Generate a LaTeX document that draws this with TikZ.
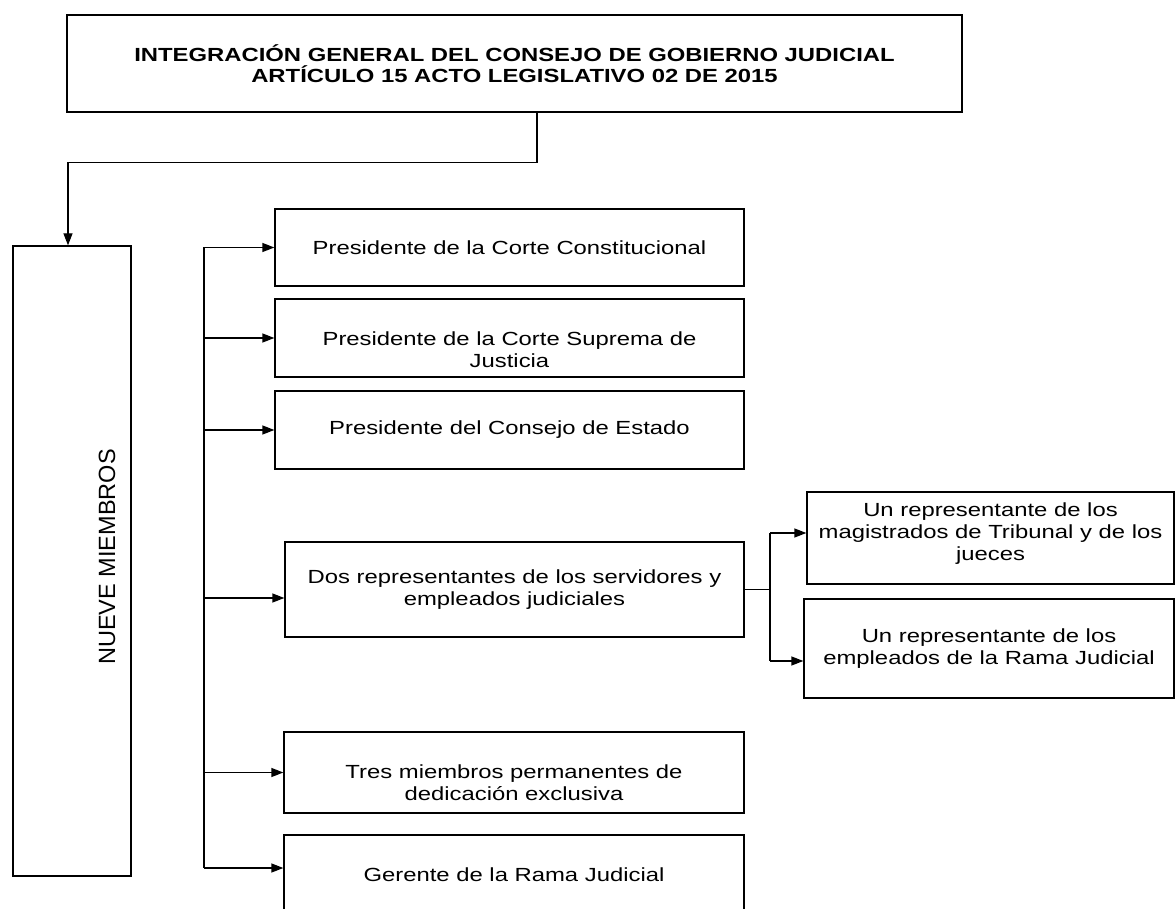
\documentclass[tikz,border=0pt]{standalone}
\usepackage{fontspec}
\setmainfont{Liberation Sans}[FakeStretch=1.255]
\newfontfamily\rotfont{Liberation Sans}
\usetikzlibrary{arrows.meta}
\begin{document}
\begin{tikzpicture}[x=1pt,y=-1pt,
  caja/.style={draw,line width=1.3pt,align=center,inner sep=0pt,font=\fontsize{19}{21.7}\selectfont},
  flecha/.style={line width=1.3pt,-{Triangle[length=12pt,width=9pt]}},
  linea/.style={line width=1.3pt}]
\fill[white] (0,0) rectangle (1176,909);
\useasboundingbox (0,0) rectangle (1176,909);
\node[caja,minimum width=895pt,minimum height=97pt,font=\bfseries\fontsize{19}{21}\selectfont] (titulo) at (514.5,63.5)
  {INTEGRACIÓN GENERAL DEL CONSEJO DE GOBIERNO JUDICIAL\\ARTÍCULO 15 ACTO LEGISLATIVO 02 DE 2015};
\node[caja,minimum width=118pt,minimum height=630pt] (nueve) at (72,561) {};
\node[rotate=90,inner sep=0pt,font=\rotfont\fontsize{23.5}{26}\selectfont] (nuevetxt) at (107,557) {NUEVE MIEMBROS};
\node[caja,minimum width=469pt,minimum height=77pt] (p1) at (509.5,247.5) {Presidente de la Corte Constitucional};
\node[caja,minimum width=469pt,minimum height=78pt,text height=62pt,text depth=4pt] (p2) at (509.5,338) {Presidente de la Corte Suprema de\\Justicia};
\node[caja,minimum width=469pt,minimum height=78pt] (p3) at (509.5,430) {Presidente del Consejo de Estado};
\node[caja,minimum width=459pt,minimum height=95pt] (p4) at (514.5,589.5) {Dos representantes de los servidores y\\empleados judiciales};
\node[caja,minimum width=460pt,minimum height=81pt,text height=59pt,text depth=4pt] (p5) at (514,772.5) {Tres miembros permanentes de\\dedicación exclusiva};
\node[caja,minimum width=460pt,minimum height=80pt] (p6) at (514,875) {Gerente de la Rama Judicial};
\node[caja,minimum width=367pt,minimum height=92pt,text height=48pt,text depth=4pt] (r1) at (990.5,538) {Un representante de los\\magistrados de Tribunal y de los\\jueces};
\node[caja,minimum width=370pt,minimum height=99pt] (r2) at (989,648.5) {Un representante de los\\empleados de la Rama Judicial};
\draw[flecha] ([xshift=22.5pt]titulo.south) -- ++(0,50) -| ([xshift=-4pt]nueve.north);
\coordinate (bus) at (204,0);
\foreach \n/\s in {p1/0,p2/0,p3/0,p4/-8.5,p5/0,p6/7}
  \coordinate (e\n) at ([yshift=\s pt]\n.west);
\draw[linea] (bus |- ep1) -- (bus |- ep6);
\foreach \n in {p1,p2,p3,p4,p5,p6}
  \draw[flecha] (bus |- e\n) -- (e\n);
\coordinate (rama) at (770,0);
\coordinate (er1) at ([yshift=5pt]r1.west);
\coordinate (er2) at ([yshift=-12.5pt]r2.west);
\draw[linea] (p4.east) -- (rama |- p4.east);
\draw[linea] (rama |- er1) -- (rama |- er2);
\draw[flecha] (rama |- er1) -- (er1);
\draw[flecha] (rama |- er2) -- (er2);
\end{tikzpicture}
\end{document}
